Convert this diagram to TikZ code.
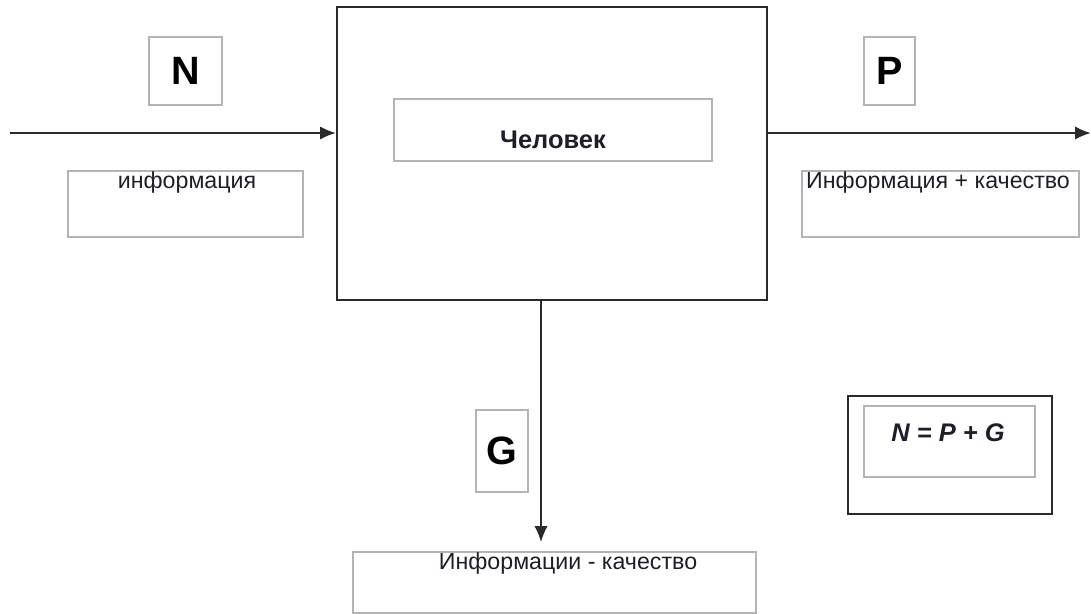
\documentclass[tikz,border=0pt]{standalone}
\usepackage{fontspec}
\setmainfont{Liberation Sans}
\usetikzlibrary{arrows.meta,calc}
\definecolor{boxgray}{HTML}{B4B4B4}
\definecolor{dark}{HTML}{2A2A2A}
\definecolor{txt}{HTML}{1E1E2A}
\tikzset{
  gbox/.style={draw=boxgray, line width=0.9pt, rectangle, inner sep=0pt},
  mainbox/.style={draw=dark, line width=1.2pt, rectangle, inner sep=0pt},
  arr/.style={draw=dark, line width=1.2pt, -{Latex[length=9pt,width=7.5pt]}},
  small/.style={font=\fontsize{13.2}{16}\selectfont, text=txt},
  big/.style={font=\fontsize{22.5}{26}\selectfont\bfseries, text=black},
}
\begin{document}
\begin{tikzpicture}[x=0.02cm,y=-0.02cm]
\useasboundingbox (0,0) rectangle (1091,614);
% main box
\node[mainbox, minimum width=8.6cm, minimum height=5.86cm] (main) at (552,153.5) {};
\node[gbox, minimum width=6.36cm, minimum height=1.24cm] (chel) at (553,130) {};
\node[small, font=\fontsize{14.5}{16}\selectfont\bfseries] (cheltxt) at (553,140) {Человек};
% letter boxes
\node[gbox, minimum width=1.46cm, minimum height=1.36cm, big] (N) at (185.5,71) {N};
\node[gbox, minimum width=1.02cm, minimum height=1.36cm, big] (P) at (889.5,71) {P};
\node[gbox, minimum width=1.04cm, minimum height=1.64cm, big] (G) at (502,451) {G};
% text boxes
\node[gbox, minimum width=4.7cm, minimum height=1.32cm] (inf) at (185.5,204) {};
\node[small] (inftxt) at (187,183) {информация};
\node[gbox, minimum width=5.54cm, minimum height=1.32cm] (infp) at (940.5,204) {};
\node[small] (infptxt) at (938,183) {Информация + качество};
\node[gbox, minimum width=8.06cm, minimum height=1.22cm] (infm) at (554.5,582.5) {};
\node[small] (infmtxt) at (568,564) {Информации - качество};
% formula
\node[mainbox, line width=1pt, minimum width=4.08cm, minimum height=2.36cm] (fout) at (950,455) {};
\node[gbox, minimum width=3.42cm, minimum height=1.42cm] (fin) at (949.5,441.5) {};
\node[small, font=\fontsize{14.5}{16}\selectfont\bfseries\itshape, text=txt] (ftxt) at (948,433) {N = P + G};
% arrows
\coordinate (inL) at (10,133);
\coordinate (outR) at (1091,133);
\coordinate (downE) at (541,542);
\draw[arr] (inL) -- (inL -| main.west);
\draw[arr] (main.east |- outR) -- (outR);
\draw[arr, line width=0.8pt] (main.south -| downE) -- (downE);
\end{tikzpicture}
\end{document}
